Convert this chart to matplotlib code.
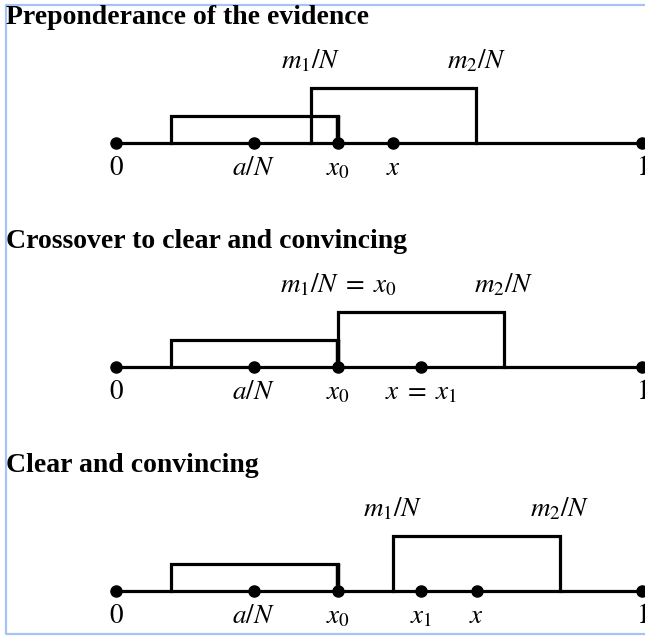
import matplotlib.pyplot as plt
from matplotlib.lines import Line2D

plt.rcParams['mathtext.fontset'] = 'stix'
plt.rcParams['font.family'] = ['Liberation Serif', 'DejaVu Serif']

# Data (positions on the unit interval)
titles = ["Preponderance of the evidence",
          "Crossover to clear and convincing",
          "Clear and convincing"]
a_over_N = 0.262
x0 = 0.422
low_box = (0.105, 0.422)          # first interval, ends at x0
m1_vals = [0.371, 0.422, 0.527]   # m1/N in each panel
m2_vals = [0.685, 0.737, 0.844]   # m2/N in each panel
low_height = 1
high_height = 2

# dots and labels below the line, per panel
points = [
    [(0, r"$0$"), (a_over_N, r"$a/N$"), (x0, r"$x_0$"), (0.527, r"$x$"), (1, r"$1$")],
    [(0, r"$0$"), (a_over_N, r"$a/N$"), (x0, r"$x_0$"), (0.580, r"$x\;=\;x_1$"), (1, r"$1$")],
    [(0, r"$0$"), (a_over_N, r"$a/N$"), (x0, r"$x_0$"), (0.580, r"$x_1$"), (0.686, r"$x$"), (1, r"$1$")],
]
m1_labels = [r"$m_1/N$", r"$m_1/N\;=\;x_0$", r"$m_1/N$"]
m2_labels = [r"$m_2/N$", r"$m_2/N$", r"$m_2/N$"]

W, H = 645, 637
fig = plt.figure(figsize=(W / 100, H / 100), dpi=100)

panel_h = 224   # pixels per panel
line_y = 143    # axis line, pixels from panel top
unit_px = 27.5  # pixels per unit of box height
x_left = 116    # pixel of 0
x_scale = 526   # pixels per unit

lw = 2.3
fs = 19.5
for k in range(3):
    ax = fig.add_axes([0, 1 - panel_h * (k + 1) / H, 1, panel_h / H])
    ax.set_xlim(-x_left / x_scale, (W - x_left) / x_scale)
    ax.set_ylim(-(panel_h - line_y) / unit_px, line_y / unit_px)
    ax.axis('off')

    # number line
    ax.plot([0, 1], [0, 0], color='black', lw=lw, solid_capstyle='butt')

    # the two intervals (the side at x0 is drawn a bit heavier)
    l, r = low_box
    ax.plot([l, l, r], [0, low_height, low_height], color='black', lw=lw,
            solid_joinstyle='miter')
    ax.plot([r, r], [low_height, 0], color='black', lw=3.2, solid_capstyle='butt')
    l, r = m1_vals[k], m2_vals[k]
    ax.plot([l, l, r, r], [0, high_height, high_height, 0], color='black', lw=lw,
            solid_joinstyle='miter')

    # dots and their labels
    xs = [p for p, _ in points[k]]
    ax.plot(xs, [0] * len(xs), 'o', color='black', ms=8, zorder=5, clip_on=False)
    for p, lab in points[k]:
        ax.annotate(lab, (p, 0), xytext=(0, -13), textcoords='offset pixels',
                    ha='center', va='top', fontsize=fs)

    # labels above the upper interval
    ax.annotate(m1_labels[k], (m1_vals[k], high_height), xytext=(0, 14),
                textcoords='offset pixels', ha='center', va='bottom', fontsize=fs)
    ax.annotate(m2_labels[k], (m2_vals[k], high_height), xytext=(0, 14),
                textcoords='offset pixels', ha='center', va='bottom', fontsize=fs)

    # panel title
    fig.text(6 / W, 1 - (24 + panel_h * k) / H, titles[k], fontsize=20,
             fontweight='bold', va='baseline', ha='left')

# light blue frame (right side is off the picture)
frame_c = '#a6c3f3'
fx = 5.5 / W
ft = 1 - 4.5 / H
fb = 1 - 634 / H
fig.add_artist(Line2D([1.02, fx, fx, 1.02], [ft, ft, fb, fb], color=frame_c, lw=1.6))

fig.savefig('out.png', dpi=100)
